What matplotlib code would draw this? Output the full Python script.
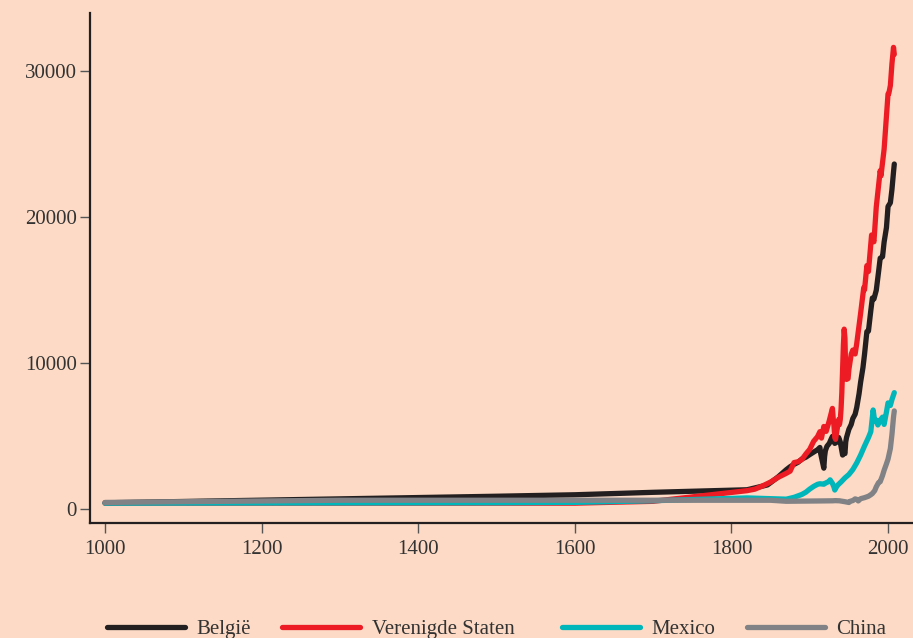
import matplotlib
matplotlib.use("Agg")
import matplotlib.pyplot as plt
from matplotlib.lines import Line2D

# ---------------- data (GDP per capita) ----------------
be_years = [1000, 1500, 1600, 1700, 1820, 1846, 1850, 1860, 1870, 1875, 1880, 1885, 1890,
            1895, 1900, 1905, 1910, 1913, 1914, 1916, 1918, 1919, 1920, 1922, 1925, 1927,
            1929, 1931, 1932, 1935, 1937, 1939, 1940, 1942, 1943, 1944, 1945, 1946, 1947,
            1950, 1953, 1955, 1958, 1960, 1963, 1965, 1968, 1970, 1973, 1975, 1978, 1980,
            1982, 1985, 1988, 1990, 1993, 1995, 1998, 2000, 2003, 2005, 2007, 2008]
be_vals = [425, 875, 976, 1144, 1319, 1650, 1808, 2216, 2692, 2900, 3065, 3200, 3428,
           3550, 3731, 3900, 4064, 4220, 3800, 3300, 2800, 3600, 4000, 4300, 4500, 4750,
           4979, 4700, 4500, 4600, 4900, 4600, 4300, 3700, 3800, 3900, 3800, 4600, 4900,
           5462, 5800, 6200, 6500, 6952, 7900, 8700, 9700, 10611, 12170, 12200, 13600, 14467,
           14400, 15000, 16300, 17197, 17300, 18300, 19300, 20742, 21000, 21900, 23100, 23655]

us_years = [1000, 1500, 1600, 1700, 1820, 1830, 1840, 1850, 1860, 1870, 1875, 1880, 1885,
            1890, 1895, 1900, 1905, 1910, 1913, 1915, 1918, 1920, 1921, 1925, 1929, 1930,
            1931, 1932, 1933, 1935, 1937, 1938, 1939, 1940, 1941, 1942, 1943, 1944, 1945,
            1946, 1947, 1949, 1950, 1953, 1955, 1958, 1960, 1965, 1969, 1970, 1973, 1975,
            1979, 1980, 1982, 1985, 1990, 1991, 1995, 2000, 2001, 2003, 2005, 2007, 2008]
us_vals = [400, 400, 400, 527, 1257, 1362, 1588, 1849, 2178, 2445, 2599, 3184, 3239,
           3392, 3767, 4091, 4642, 4964, 5301, 4864, 5659, 5552, 5323, 6063, 6899, 6213,
           5691, 4908, 4777, 5467, 6134, 5799, 6126, 6838, 7982, 9588, 11236, 12333, 11709,
           9197, 8886, 8944, 9561, 10613, 10897, 10631, 11328, 13419, 15179, 15030, 16689, 16284,
           18789, 18577, 18325, 20717, 23201, 22849, 24664, 28467, 28485, 29037, 30519, 31655, 31178]

mx_years = [1000, 1500, 1600, 1700, 1820, 1870, 1880, 1890, 1895, 1900, 1905, 1910, 1913,
            1918, 1921, 1925, 1926, 1929, 1931, 1932, 1934, 1936, 1940, 1945, 1950, 1955,
            1960, 1965, 1970, 1975, 1978, 1980, 1981, 1983, 1985, 1987, 1990, 1993, 1995,
            1998, 2000, 2003, 2005, 2008]
mx_vals = [400, 425, 454, 568, 759, 674, 800, 1000, 1150, 1366, 1550, 1694, 1732,
           1700, 1800, 1900, 2000, 1757, 1500, 1300, 1500, 1650, 1852, 2134, 2365, 2700,
           3155, 3700, 4320, 4900, 5300, 6289, 6790, 6000, 6100, 5760, 6085, 6300, 5800,
           6650, 7275, 7100, 7500, 7979]

cn_years = [1000, 1300, 1500, 1600, 1700, 1820, 1850, 1870, 1890, 1900, 1913, 1929, 1933,
            1938, 1945, 1950, 1952, 1955, 1958, 1960, 1962, 1965, 1970, 1975, 1978, 1980,
            1983, 1985, 1988, 1990, 1993, 1995, 1998, 2000, 2003, 2005, 2007, 2008]
cn_vals = [450, 600, 600, 600, 600, 600, 600, 530, 540, 545, 552, 562, 574,
           562, 500, 448, 537, 575, 693, 662, 553, 706, 778, 874, 978, 1061,
           1260, 1522, 1816, 1871, 2300, 2653, 3100, 3421, 4150, 5100, 6300, 6725]

series_names = ["België", "Verenigde Staten", "Mexico", "China"]
x_ticks = [1000, 1200, 1400, 1600, 1800, 2000]
y_ticks = [0, 10000, 20000, 30000]

# ---------------- style ----------------
bg = "#fcdac5"
colors = ["#231f20", "#ed1c24", "#00b6bb", "#818285"]
txt_color = "#333333"
plt.rcParams['font.family'] = ['Liberation Serif', 'DejaVu Serif']

fig = plt.figure(figsize=(9.13, 6.38), dpi=100, facecolor=bg)
ax = fig.add_axes([90 / 913, 1 - 523 / 638, 1 - 90 / 913, (523 - 13) / 638])
ax.set_facecolor(bg)

data = [(be_years, be_vals), (us_years, us_vals), (mx_years, mx_vals), (cn_years, cn_vals)]
for (xs, ys), c in zip(data, colors):
    ax.plot(xs, ys, color=c, lw=3.8, solid_capstyle='round', solid_joinstyle='round')

ax.set_xlim(980.8, 2031.9)
ax.set_ylim(-960, 34011)
ax.set_xticks(x_ticks)
ax.set_yticks(y_ticks)
ax.set_xticklabels([str(t) for t in x_ticks])
ax.set_yticklabels([str(t) for t in y_ticks])

for s in ['top', 'right']:
    ax.spines[s].set_visible(False)
for s in ['left', 'bottom']:
    ax.spines[s].set_color("#231f20")
    ax.spines[s].set_linewidth(1.6)

ax.tick_params(axis='both', which='major', direction='out', length=7.5, width=1.0,
               color="#555555", labelsize=15, labelcolor=txt_color)
ax.tick_params(axis='y', pad=2)
ax.tick_params(axis='x', pad=5)

# legend at the bottom: one entry per anchor position
starts = [107, 282, 562, 747]
for name, c, xs in zip(series_names, colors, starts):
    h = Line2D([], [], color=c, lw=3.8, solid_capstyle='round')
    leg = fig.legend([h], [name], loc='center left',
                     bbox_to_anchor=(xs / 913, 1 - 629 / 638),
                     frameon=False, fontsize=15, handlelength=3.75,
                     handletextpad=0.55, borderpad=0, borderaxespad=0)
    for t in leg.get_texts():
        t.set_color(txt_color)

fig.savefig("out.png", dpi=100, facecolor=bg)
